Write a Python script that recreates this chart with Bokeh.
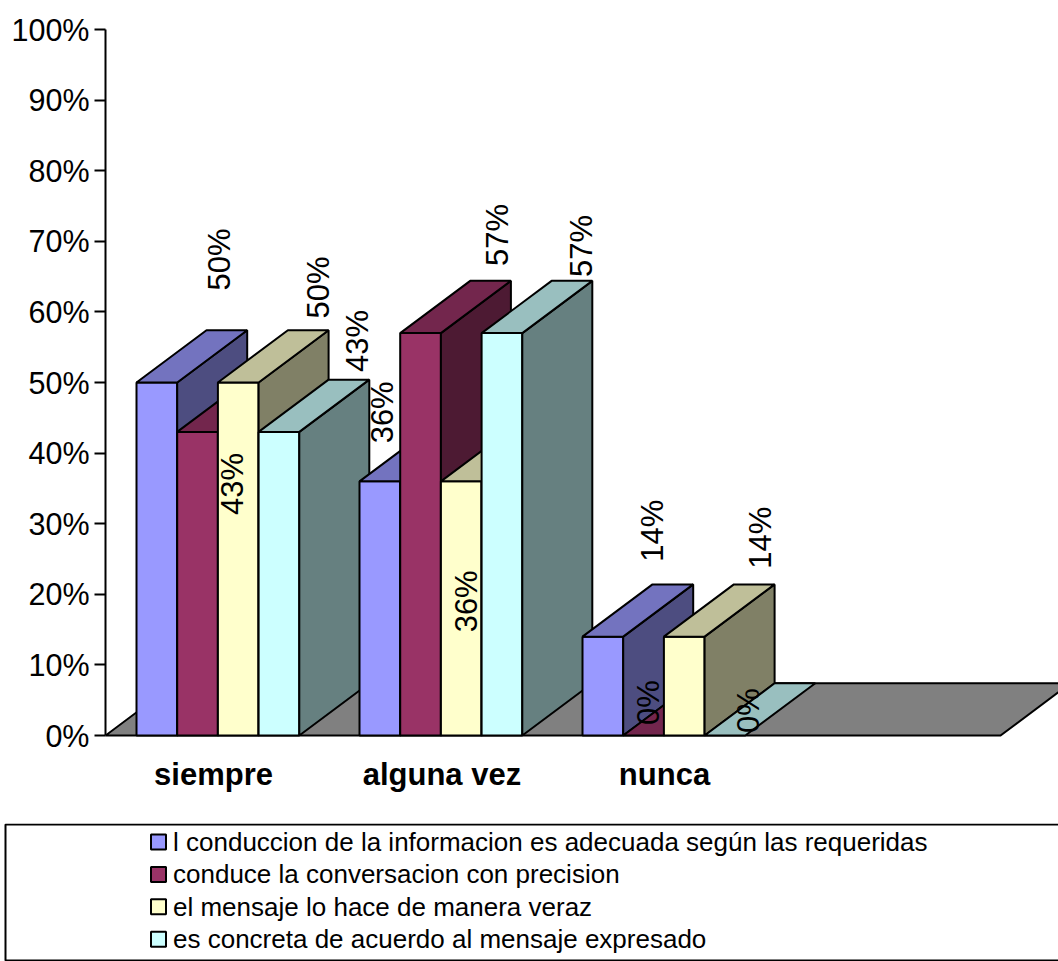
from bokeh.embed import file_html
from bokeh.resources import INLINE
from bokeh.plotting import figure
from bokeh.layouts import column, row
from bokeh.models import ColumnDataSource, FixedTicker, PrintfTickFormatter, Range1d
from bokeh.core.properties import value
import math

categories = ["siempre", "alguna vez", "nunca"]
series_names = [
    "l conduccion de la informacion es adecuada según las requeridas",
    "conduce la conversacion con precision",
    "el mensaje lo hace de manera veraz",
    "es concreta de acuerdo al mensaje expresado",
]
series_values = [
    [50, 36, 14],
    [43, 57, 0],
    [50, 36, 14],
    [43, 57, 0],
]
front_colors = ["#9999FF", "#993366", "#FFFFCC", "#CCFFFF"]
top_colors = ["#7373BF", "#73264D", "#BFBF99", "#99BFBF"]
side_colors = ["#4D4D80", "#4D1A33", "#808066", "#668080"]
tick_values = list(range(0, 101, 10))

FONT = "Liberation Sans"
INK = "#000000"

# Oblique projection of the bars
BAR_W = 40.7
GROUP_STEP = 223.0
FIRST_BAR = 136.0
DEPTH_X = 70.0
DEPTH_Y = 7.4
AXIS_X = 105.0
FLOOR_RIGHT = 1000.0

# Screen shift of each rotated value label from the front top-left corner of its bar
label_dx = [[83, 23, 70], [55, 97, 25], [100.6, 25.6, 97], [99, 100, 44]]
label_dy = [[-123, -69, -106], [52, -98, -33], [-95, 120, -99], [-91, -87, -25]]
category_shift = [-4.4, 1.0, 0.6]

PX_PER_PCT = 7.06
PLOT_H = 823
ZERO_PX = 735

p = figure(
    width=1058, height=PLOT_H, output_backend="svg", toolbar_location=None,
    x_range=Range1d(AXIS_X, 1058),
    y_range=Range1d((ZERO_PX - PLOT_H) / PX_PER_PCT, ZERO_PX / PX_PER_PCT),
    x_axis_location=None, min_border_left=int(AXIS_X), min_border_right=0,
    min_border_top=0, min_border_bottom=0,
)
p.outline_line_color = None
p.grid.visible = False
p.background_fill_color = "white"
p.border_fill_color = "white"

ax = p.yaxis[0]
ax.bounds = (0, 100)
ax.ticker = FixedTicker(ticks=tick_values)
ax.formatter = PrintfTickFormatter(format="%d%%")
ax.major_tick_in = 0
ax.major_tick_out = 11
ax.minor_tick_line_color = None
ax.axis_line_color = INK
ax.axis_line_width = 2
ax.major_tick_line_color = INK
ax.major_tick_line_width = 2
ax.major_label_text_font = FONT
ax.major_label_text_font_size = "30.5px"
ax.major_label_text_color = INK
ax.major_label_standoff = 5

# Floor of the chart
p.patch(
    [AXIS_X, FLOOR_RIGHT, FLOOR_RIGHT + DEPTH_X, AXIS_X + DEPTH_X],
    [0, 0, DEPTH_Y, DEPTH_Y],
    fill_color="#808080", line_color=INK, line_width=2, line_join="miter",
)

lab_x, lab_y, lab_text, lab_dy = [], [], [], []
for g in range(len(categories)):
    for s in range(len(series_names)):
        v = series_values[s][g]
        x0 = FIRST_BAR + g * GROUP_STEP + s * BAR_W
        x1 = x0 + BAR_W
        # Front, then top, then side: later bars overlap earlier ones
        if v > 0:
            p.quad(left=x0, right=x1, bottom=0, top=v,
                   fill_color=front_colors[s], line_color=INK, line_width=2)
            p.patch([x1, x1 + DEPTH_X, x1 + DEPTH_X, x1],
                    [0, DEPTH_Y, v + DEPTH_Y, v],
                    fill_color=side_colors[s], line_color=INK, line_width=2)
        p.patch([x0, x1, x1 + DEPTH_X, x0 + DEPTH_X],
                [v, v, v + DEPTH_Y, v + DEPTH_Y],
                fill_color=top_colors[s], line_color=INK, line_width=2)
        lab_x.append(x0 + label_dx[s][g])
        lab_y.append(v)
        lab_dy.append(label_dy[s][g])
        lab_text.append(f"{v}%")

p.text(
    x="x", y="y", text="text", y_offset="dy",
    source=ColumnDataSource(dict(x=lab_x, y=lab_y, text=lab_text, dy=lab_dy)),
    angle=math.pi / 2, text_align="center", text_baseline="middle",
    text_font=value(FONT), text_font_size="31px", text_color=INK,
)

# Category names under the floor
cat_x = [FIRST_BAR + g * GROUP_STEP + 2 * BAR_W + category_shift[g] for g in range(len(categories))]
p.text(
    x=cat_x, y=[0] * len(categories), text=categories, y_offset=39,
    text_align="center", text_baseline="middle",
    text_font=value(FONT), text_font_size="31px", text_font_style="bold",
    text_color=INK,
)

# Legend panel
LEG_H = 138
leg = figure(
    width=1058, height=LEG_H, output_backend="svg", toolbar_location=None,
    x_range=Range1d(0, 1058), y_range=Range1d(LEG_H, 0),
    x_axis_location=None, y_axis_location=None,
    min_border_left=0, min_border_right=0, min_border_top=0, min_border_bottom=0,
)
leg.outline_line_color = None
leg.grid.visible = False
leg.quad(left=5, right=1080, top=1, bottom=137,
         fill_color="white", line_color=INK, line_width=2)
rows = [18.5 + i * 32.4 for i in range(len(series_names))]
leg.scatter(x=[158] * len(rows), y=rows, marker="square", size=15,
            fill_color=front_colors, line_color=INK, line_width=2)
leg.text(x=[172.5] * len(rows), y=rows, text=series_names,
         text_align="left", text_baseline="middle",
         text_font=value(FONT), text_font_size="26px", text_color=INK)

open("out.html", "w").write(file_html(column(p, row(leg, spacing=0), spacing=0), INLINE))
